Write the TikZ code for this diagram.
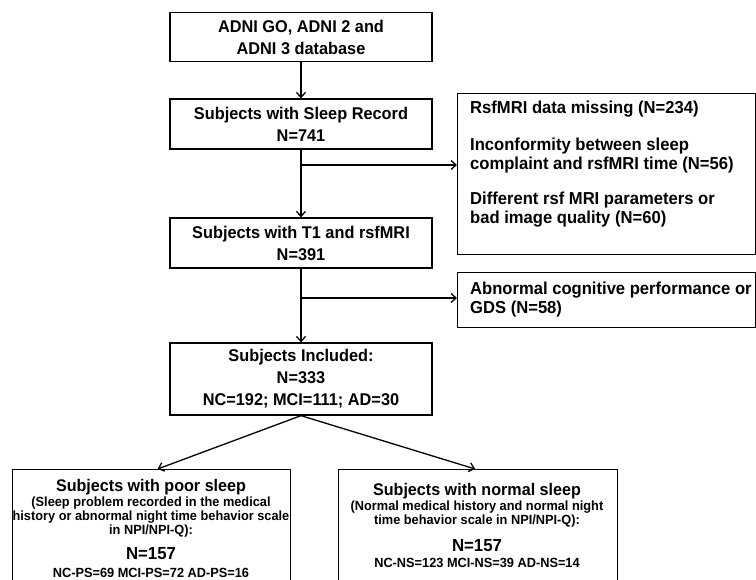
\documentclass[tikz,border=0pt]{standalone}
\usepackage{fontspec}
\setmainfont{Liberation Sans}[FakeStretch=0.96]
\usetikzlibrary{arrows.meta}
\tikzset{
  box/.style={draw, line width=1.3pt, inner sep=0pt, align=center,
    font=\fontsize{17}{22}\selectfont\bfseries},
  frame/.style={draw, line width=1.3pt, inner sep=0pt},
  bigtxt/.style={inner sep=0pt, font=\fontsize{17.3}{19}\selectfont\bfseries},
  titletxt/.style={inner sep=0pt, font=\fontsize{16.8}{19}\selectfont\bfseries},
  smalltxt/.style={inner sep=0pt, font=\fontsize{13.3}{14}\selectfont\bfseries},
  ntxt/.style={inner sep=0pt, font=\fontsize{17.5}{19}\selectfont\bfseries},
  arr/.style={line width=1.3pt, -{Straight Barb[length=5pt,width=9pt,line width=1.3pt]}},
  ln/.style={line width=1.3pt}
}
\begin{document}
\begin{tikzpicture}[x=1pt,y=-1pt]
\useasboundingbox (0,0) rectangle (756,580);
% main column
\node[box, minimum width=262, minimum height=49] (b1) at (301,37) {ADNI GO, ADNI 2 and\\ADNI 3 database};
\node[box, minimum width=262, minimum height=50] (b2) at (301,124) {Subjects with Sleep Record\\N=741};
\node[box, minimum width=262, minimum height=50] (b3) at (301,243) {Subjects with T1 and rsfMRI\\N=391};
\node[box, minimum width=262, minimum height=72] (b4) at (301,379) {Subjects Included:\\N=333\\NC=192; MCI=111; AD=30};
% exclusion boxes
\node[frame, minimum width=298, minimum height=161, anchor=north west] (ex1) at (457,93) {};
\node[bigtxt, anchor=base west] (ex1a) at (470,114) {RsfMRI data missing (N=234)};
\node[bigtxt, anchor=base west, align=left] (ex1b) at (470,170) {Inconformity between sleep\\complaint and rsfMRI time (N=56)};
\node[bigtxt, anchor=base west, align=left] (ex1c) at (470,224) {Different rsf MRI parameters or\\bad image quality (N=60)};
\node[frame, minimum width=298, minimum height=55, anchor=north west] (ex2) at (457,272) {};
\node[bigtxt, anchor=base west, align=left] (ex2a) at (470,314) {Abnormal cognitive performance or\\GDS (N=58)};
% bottom boxes
\node[frame, minimum width=278, minimum height=140, anchor=north west] (ps) at (12,469) {};
\node[titletxt, anchor=base] (psa) at (151,491) {Subjects with poor sleep};
\node[smalltxt, anchor=base, align=center] (psb) at (151,534.5) {(Sleep problem recorded in the medical\\history or abnormal night time behavior scale\\in NPI/NPI-Q):};
\node[ntxt, anchor=base] (psc) at (151,559.5) {N=157};
\node[smalltxt, anchor=base] (psd) at (151,577) {NC-PS=69 MCI-PS=72 AD-PS=16};
\node[frame, minimum width=279, minimum height=140, anchor=north west] (ns) at (338,469) {};
\node[titletxt, anchor=base] (nsa) at (477,495) {Subjects with normal sleep};
\node[smalltxt, anchor=base, align=center] (nsb) at (477,524.5) {(Normal medical history and normal night\\time behavior scale in NPI/NPI-Q):};
\node[ntxt, anchor=base] (nsc) at (477,551.5) {N=157};
\node[smalltxt, anchor=base] (nsd) at (477,567) {NC-NS=123 MCI-NS=39 AD-NS=14};
% connectors
\coordinate (br1) at (301,165);
\coordinate (br2) at (301,298);
\draw[arr] (b1.south) -- (b2.north);
\draw[arr] (b2.south) -- (b3.north);
\draw[arr] (b3.south) -- (b4.north);
\draw[arr] (br1) -- (br1 -| ex1.west);
\draw[arr] (br2) -- (br2 -| ex2.west);
\draw[arr] (b4.south) -- ([xshift=6pt]ps.north);
\draw[arr] (b4.south) -- ([xshift=-3pt]ns.north);
\end{tikzpicture}
\end{document}
